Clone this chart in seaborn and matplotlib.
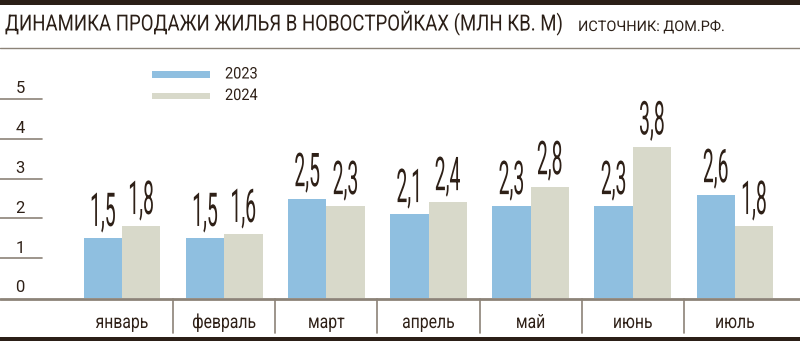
import matplotlib
matplotlib.use("Agg")
import matplotlib.pyplot as plt
import matplotlib.transforms as mtransforms
from matplotlib.patches import Rectangle
from matplotlib.lines import Line2D
from matplotlib.patheffects import AbstractPathEffect
import seaborn as sns
import pandas as pd

months = ['январь', 'февраль', 'март', 'апрель', 'май', 'июнь', 'июль']
years = ['2023', '2024']
v2023 = [1.5, 1.5, 2.5, 2.1, 2.3, 2.3, 2.6]
v2024 = [1.8, 1.6, 2.3, 2.4, 2.8, 3.8, 1.8]
yticks = [0, 1, 2, 3, 4, 5]
title = 'ДИНАМИКА ПРОДАЖИ ЖИЛЬЯ В НОВОСТРОЙКАХ (МЛН КВ. М)'
source = 'ИСТОЧНИК: ДОМ.РФ.'

W, H = 800, 341
C_BLUE = '#8fbfe0'
C_GRAY = '#d8d9ca'
C_TEXT = '#2e2017'
C_LINE = '#8c8378'
C_DARK = '#2b1f17'
FONT = ['Roboto', 'DejaVu Sans']


class Stretch(AbstractPathEffect):
    """Stretch glyphs vertically around the baseline (condensed look)."""

    def __init__(self, sy):
        super().__init__()
        self.sy = sy

    def draw_path(self, renderer, gc, tpath, affine, rgbFace=None):
        t = mtransforms.Affine2D().scale(1, self.sy)
        renderer.draw_path(gc, tpath, t + affine, rgbFace)


sns.set_style('white')
plt.rcParams['font.family'] = FONT

df = pd.DataFrame({
    'month': months * 2,
    'year': [years[0]] * len(months) + [years[1]] * len(months),
    'value': v2023 + v2024,
})

fig = plt.figure(figsize=(W / 100, H / 100), dpi=100)
renderer = fig.canvas.get_renderer()


def fx(px):
    return px / W


def fy(py):
    return 1 - py / H


def fit(txt, target_px):
    """Shrink font to the target width, then stretch back to full height."""
    w = txt.get_window_extent(renderer).width
    s = target_px / w
    txt.set_fontsize(txt.get_fontsize() * s)
    txt.set_path_effects([Stretch(1 / s)])
    return s


ax_top = fy(298 - 5.5 * 39.8)
ax = fig.add_axes([fx(71), fy(298), fx(786) - fx(71), ax_top - fy(298)])
sns.barplot(data=df, x='month', y='value', hue='year', hue_order=years,
            order=months, palette={years[0]: C_BLUE, years[1]: C_GRAY},
            width=0.75, linewidth=0, saturation=1, legend=False, ax=ax)
ax.set_xlim(-0.5, len(months) - 0.5)
ax.set_ylim(0, 5.5)
ax.set_xlabel('')
ax.set_ylabel('')
ax.set_xticks([])
ax.set_yticks([])
for s in ax.spines.values():
    s.set_visible(False)

# value labels (tall condensed numerals)
for cont, vals in zip(ax.containers, [v2023, v2024]):
    labs = ax.bar_label(cont, labels=[f'{v:.1f}'.replace('.', ',') for v in vals],
                        padding=6, fontsize=14, color=C_TEXT, family=FONT)
    for lab in labs:
        lab.set_path_effects([Stretch(2.4)])

# y ticks (short lines at the left with labels)
tr_fy = mtransforms.blended_transform_factory(fig.transFigure, ax.transData)
for t in yticks:
    if t > 0:
        ax.add_line(Line2D([fx(0), fx(42)], [t, t], transform=tr_fy,
                           color=C_LINE, lw=1.2, clip_on=False))
    ax.annotate(str(t), xy=(fx(20), t), xycoords=tr_fy, xytext=(0, 4),
                textcoords='offset points', ha='center', va='baseline',
                fontsize=12, color=C_TEXT, annotation_clip=False)

# baseline full width
fig.add_artist(Line2D([0, 1], [fy(298.5), fy(298.5)], color=C_LINE, lw=2))

# category dividers and labels
tr_xf = mtransforms.blended_transform_factory(ax.transData, fig.transFigure)
cat_s = None
for i, m in enumerate(months):
    lab = ax.text(i, fy(328), m, transform=tr_xf, ha='center', va='baseline',
                  fontsize=14, color=C_TEXT, clip_on=False)
    if cat_s is None:
        cat_s = fit(lab, 53)
    else:
        lab.set_fontsize(14 * cat_s)
        lab.set_path_effects([Stretch(1 / cat_s)])
    if i > 0:
        ax.add_line(Line2D([i - 0.5, i - 0.5], [fy(299), fy(333)],
                           transform=tr_xf, color=C_LINE, lw=1.2, clip_on=False))

# bottom thick line
fig.add_artist(Rectangle((0, 0), 1, fy(337), transform=fig.transFigure,
                         color=C_DARK, lw=0))
# top thick line and thin rule
fig.add_artist(Rectangle((0, fy(5)), 1, 1 - fy(5), transform=fig.transFigure,
                         color=C_DARK, lw=0))
fig.add_artist(Line2D([0, 1], [fy(47.5), fy(47.5)], color=C_LINE, lw=1))

# title and source
t_title = fig.text(fx(5), fy(30.5), title, ha='left', va='baseline',
                   fontsize=16, color=C_DARK)
fit(t_title, 558)
t_src = fig.text(fx(578), fy(31), source, ha='left', va='baseline',
                 fontsize=10.5, color=C_DARK)
fit(t_src, 147)

# legend
for k, (yr, col) in enumerate(zip(years, [C_BLUE, C_GRAY])):
    y0 = 71 + k * 21.5
    fig.add_artist(Rectangle((fx(152), fy(y0 + 6.5)), fx(58), 6.5 / H,
                             transform=fig.transFigure, color=col, lw=0))
    lab = fig.text(fx(225), fy(y0 + 7.5), yr, ha='left', va='baseline',
                   fontsize=11.5, color=C_TEXT)
    fit(lab, 33)

fig.savefig('out.png', dpi=100)
